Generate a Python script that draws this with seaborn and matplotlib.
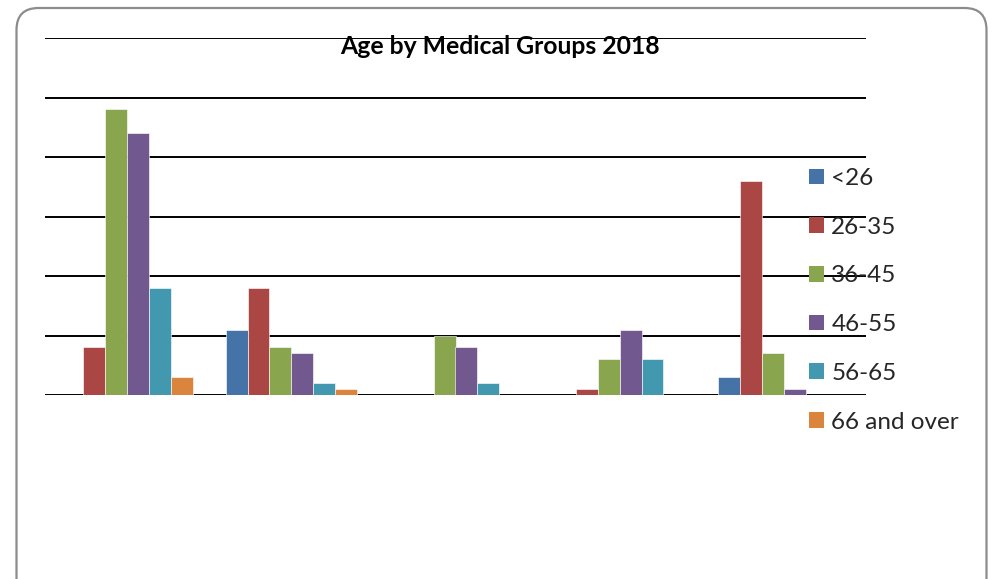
import matplotlib
matplotlib.use("Agg")
import matplotlib.pyplot as plt
from matplotlib.patches import FancyBboxPatch, Patch
import seaborn as sns
import pandas as pd

# Medical groups (unlabelled on the axis) and age bands
groups = ["Group 1", "Group 2", "Group 3", "Group 4", "Group 5"]
age_bands = ["<26", "26-35", "36-45", "46-55", "56-65", "66 and over"]

# Head counts per age band, one value per medical group
under_26 = [0, 11, 0, 0, 3]
age_26_35 = [8, 18, 0, 1, 36]
age_36_45 = [48, 8, 10, 6, 7]
age_46_55 = [44, 7, 8, 11, 1]
age_56_65 = [18, 2, 2, 6, 0]
age_66_over = [3, 1, 0, 0, 0]

palette = ["#4572A7", "#AA4643", "#89A54E", "#71588F", "#4198AF", "#DB843D"]

series = [under_26, age_26_35, age_36_45, age_46_55, age_56_65, age_66_over]
df = pd.DataFrame(
    [(g, band, v) for band, vals in zip(age_bands, series) for g, v in zip(groups, vals)],
    columns=["group", "age", "count"],
)

sns.set_theme(style="white")
plt.rcParams["font.family"] = ["Lato", "DejaVu Sans"]

W, H = 995, 579
fig = plt.figure(figsize=(W / 100, H / 100), dpi=100)
ax = fig.add_axes([45 / W, 1 - 395 / H, 821 / W, 357 / H])

sns.barplot(
    data=df, x="group", y="count", hue="age", order=groups, hue_order=age_bands,
    palette=palette, saturation=1, width=0.8, ax=ax, legend=False,
    edgecolor=(1, 1, 1, 0.7), linewidth=0.6, zorder=3,
)
for p in ax.patches:
    if p.get_height() == 0:
        p.set_visible(False)

ax.set_xlim(-0.5, len(groups) - 0.5)
ax.set_ylim(0, 60)
for yv in range(0, 61, 10):
    ax.axhline(yv, color="black", linewidth=1.4, zorder=1)
ax.set_xticks([])
ax.set_yticks([])
ax.set_xlabel("")
ax.set_ylabel("")
for s in ax.spines.values():
    s.set_visible(False)

fig.text(500 / W, 1 - 47 / H, "Age by Medical Groups 2018", ha="center", va="center",
         fontsize=17.8, fontweight="bold", color="black")

handles = [Patch(facecolor=c, edgecolor="none") for c in palette]
fig.legend(
    handles, age_bands, loc="upper left", bbox_to_anchor=(809 / W, 1 - 168 / H),
    frameon=False, fontsize=17.5, handlelength=0.62, handleheight=0.62,
    handletextpad=0.3, labelspacing=1.14, borderpad=0, borderaxespad=0,
)

border = FancyBboxPatch(
    (16.5, H - 600), 970, 592, boxstyle="round,pad=0,rounding_size=22",
    transform=None, facecolor="none", edgecolor="#8c8c8c", linewidth=1.6,
)
fig.patches.append(border)

fig.savefig("out.png", dpi=100)
